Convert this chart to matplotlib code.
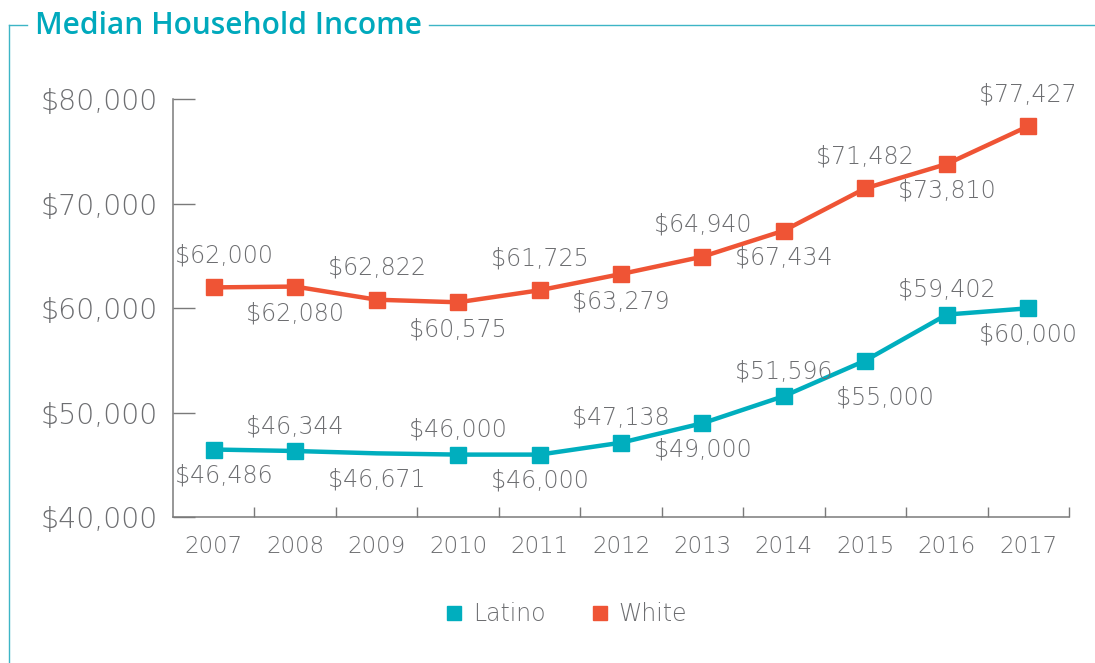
import matplotlib
matplotlib.use("Agg")
import matplotlib.pyplot as plt
from matplotlib.lines import Line2D
from matplotlib.ticker import FixedLocator, FuncFormatter

plt.rcParams['font.family'] = ['DejaVu Sans']

years = ['2007', '2008', '2009', '2010', '2011', '2012', '2013', '2014', '2015', '2016', '2017']
white_values = [62000, 62080, 60822, 60575, 61725, 63279, 64940, 67434, 71482, 73810, 77427]
white_labels = ['$62,000', '$62,080', '$62,822', '$60,575', '$61,725', '$63,279',
                '$64,940', '$67,434', '$71,482', '$73,810', '$77,427']
latino_values = [46486, 46344, 46120, 46000, 46000, 47138, 49000, 51596, 55000, 59402, 60000]
latino_labels = ['$46,486', '$46,344', '$46,671', '$46,000', '$46,000', '$47,138',
                 '$49,000', '$51,596', '$55,000', '$59,402', '$60,000']
latino_marker_idx = [0, 1, 3, 4, 5, 6, 7, 8, 9, 10]
y_ticks = [40000, 50000, 60000, 70000, 80000]

TEAL = '#00AEBE'
ORANGE = '#EF5435'
GRAY = '#6D6E71'
AXGRAY = '#7A7A7A'
FRAME = '#3DB5C6'
TW = 'light'

W, H = 1095, 663
fig = plt.figure(figsize=(W / 100, H / 100), dpi=100)
ax = fig.add_axes([173 / W, 1 - 517.3 / H, (1069 - 173) / W, (517.3 - 99.3) / H])

x = list(range(len(years)))
ax.plot(x, latino_values, color=TEAL, lw=3.2, marker='s', ms=11.3,
        markevery=latino_marker_idx, zorder=3, solid_joinstyle='round')
ax.plot(x, white_values, color=ORANGE, lw=3.2, marker='s', ms=11.3, zorder=3,
        solid_joinstyle='round')

lab_fs = 17
for i in x:
    dx = 10 if i == 0 else 0
    dyw = 32 if i % 2 == 0 else -27
    ax.annotate(white_labels[i], (i, white_values[i]), xytext=(dx, dyw),
                textcoords='offset pixels', ha='center', va='center',
                fontsize=lab_fs, color=GRAY, fontweight=TW)
    dxl = 10 if i == 0 else (20 if i == 8 else 0)
    dyl = -26 if i % 2 == 0 else 25
    if i == 8:
        dyl = -37
    ax.annotate(latino_labels[i], (i, latino_values[i]), xytext=(dxl, dyl),
                textcoords='offset pixels', ha='center', va='center',
                fontsize=lab_fs, color=GRAY, fontweight=TW)

ax.set_xlim(-0.5, 10.5)
ax.set_ylim(40000, 80000)
ax.set_xticks(x)
ax.set_xticklabels(years)
ax.xaxis.set_minor_locator(FixedLocator([i + 0.5 for i in x]))
ax.tick_params(axis='x', which='major', length=0, pad=13, labelsize=16.5, labelcolor=GRAY)
ax.tick_params(axis='x', which='minor', direction='in', length=7.5, width=1, color=AXGRAY)
ax.set_yticks(y_ticks)
ax.yaxis.set_major_formatter(FuncFormatter(lambda v, p: f'${v:,.0f}'))
ax.tick_params(axis='y', direction='in', length=16, width=1, color=AXGRAY, pad=11,
               labelsize=20.5, labelcolor=GRAY)
for lbl in ax.get_yticklabels() + ax.get_xticklabels():
    lbl.set_fontweight(TW)

for s in ['top', 'right']:
    ax.spines[s].set_visible(False)
for s in ['left', 'bottom']:
    ax.spines[s].set_color(AXGRAY)
    ax.spines[s].set_linewidth(1.1)

handles = [Line2D([], [], ls='none', marker='s', ms=9.5, color=TEAL, label='Latino'),
           Line2D([], [], ls='none', marker='s', ms=9.5, color=ORANGE, label='White')]
leg = fig.legend(handles=handles, loc='center', bbox_to_anchor=(566 / W, 1 - 614 / H),
                 ncol=2, frameon=False, fontsize=17, handlelength=0.8,
                 handletextpad=0.4, columnspacing=1.9)
for t in leg.get_texts():
    t.set_color(GRAY)
    t.set_fontweight(TW)

title = fig.text(35 / W, 1 - 26 / H, 'Median Household Income', color='#00A9BC',
                 fontsize=21.5, fontweight='semibold', ha='left', va='center',
                 family=['Open Sans', 'DejaVu Sans'])

fig.canvas.draw()
bb = title.get_window_extent(fig.canvas.get_renderer())
fy = 1 - 25 / H
fig.add_artist(Line2D([9 / W, 9 / W], [0, fy], transform=fig.transFigure, color=FRAME, lw=1))
fig.add_artist(Line2D([9 / W, 27 / W], [fy, fy], transform=fig.transFigure, color=FRAME, lw=1))
fig.add_artist(Line2D([(bb.x1 + 7) / W, 1], [fy, fy], transform=fig.transFigure, color=FRAME, lw=1))

fig.savefig('out.png', dpi=100)
